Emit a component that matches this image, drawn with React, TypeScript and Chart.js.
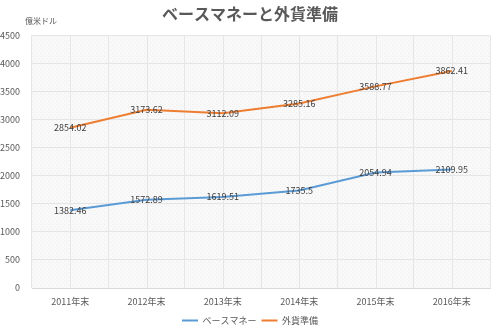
import React, { useEffect, useRef } from "react";
import { Chart, registerables } from "chart.js";

Chart.register(...registerables);

const categories = ["2011年末", "2012年末", "2013年末", "2014年末", "2015年末", "2016年末"];
const baseMoney = [1382.46, 1572.89, 1619.51, 1735.5, 2054.94, 2109.95];
const reserves = [2854.02, 3173.62, 3112.09, 3285.16, 3588.77, 3862.41];
const seriesNames = ["ベースマネー", "外貨準備"];
const yMin = 0;
const yMax = 4500;
const yStep = 500;
const titleText = "ベースマネーと外貨準備";
const unitText = "億米ドル";

const FONT = "'Noto Sans CJK JP', 'Noto Sans', sans-serif";

function makePattern(): CanvasPattern | string {
  const c = document.createElement("canvas");
  c.width = 4;
  c.height = 4;
  const g = c.getContext("2d");
  if (!g) return "#f7f7f7";
  g.fillStyle = "#f9f9f9";
  g.fillRect(0, 0, 4, 4);
  g.fillStyle = "#eeeeee";
  g.fillRect(0, 0, 1, 1);
  g.fillRect(2, 2, 1, 1);
  const p = g.createPattern(c, "repeat");
  return p || "#f7f7f7";
}

const decorPlugin = {
  id: "decor",
  beforeDraw(chart: any) {
    const { ctx, chartArea } = chart;
    ctx.save();
    ctx.fillStyle = makePattern();
    ctx.fillRect(chartArea.left, chartArea.top, chartArea.right - chartArea.left, chartArea.bottom - chartArea.top);
    ctx.restore();
  },
  beforeDatasetsDraw(chart: any) {
    const { ctx, chartArea, scales } = chart;
    const x = scales.x;
    ctx.save();
    ctx.strokeStyle = "#e6e6e6";
    ctx.lineWidth = 1;
    for (let i = 0; i < categories.length; i++) {
      const px = Math.round(x.getPixelForValue(i)) + 0.5;
      ctx.beginPath();
      ctx.moveTo(px, chartArea.top);
      ctx.lineTo(px, chartArea.bottom);
      ctx.stroke();
    }
    ctx.restore();
  },
  afterDatasetsDraw(chart: any) {
    const { ctx, chartArea } = chart;
    ctx.save();
    ctx.font = `9px ${FONT}`;
    ctx.fillStyle = "#404040";
    ctx.textAlign = "center";
    ctx.textBaseline = "middle";
    chart.data.datasets.forEach((ds: any, di: number) => {
      const meta = chart.getDatasetMeta(di);
      meta.data.forEach((pt: any, i: number) => {
        ctx.fillText(String(ds.data[i]), pt.x, pt.y);
      });
    });
    ctx.fillStyle = "#595959";
    ctx.textAlign = "left";
    ctx.textBaseline = "middle";
    ctx.font = `8px ${FONT}`;
    ctx.fillText(unitText, 25, chartArea.top - 14);
    ctx.restore();
  },
};

export default function App() {
  const ref = useRef<HTMLCanvasElement | null>(null);
  useEffect(() => {
    if (!ref.current) return;
    const chart = new Chart(ref.current, {
      type: "line",
      data: {
        labels: categories,
        datasets: [
          {
            label: seriesNames[0],
            data: baseMoney,
            borderColor: "#5B9BD5",
            backgroundColor: "#5B9BD5",
            borderWidth: 2,
            pointRadius: 0,
            tension: 0,
          },
          {
            label: seriesNames[1],
            data: reserves,
            borderColor: "#ED7D31",
            backgroundColor: "#ED7D31",
            borderWidth: 2,
            pointRadius: 0,
            tension: 0,
          },
        ],
      },
      options: {
        animation: false,
        responsive: false,
        maintainAspectRatio: false,
        layout: { padding: { left: 0, right: 0, top: 2, bottom: -5 } },
        plugins: {
          title: {
            display: true,
            text: titleText,
            color: "#595959",
            font: { family: FONT, size: 16, weight: "bold" },
            padding: { top: 2, bottom: 12 },
          },
          legend: {
            position: "bottom",
            labels: {
              usePointStyle: true,
              pointStyle: "line",
              pointStyleWidth: 16,
              color: "#595959",
              font: { family: FONT, size: 9 },
              padding: 5,
            },
          },
          tooltip: { enabled: false },
        },
        scales: {
          x: {
            offset: true,
            grid: { offset: true, color: "#e6e6e6", drawTicks: false },
            border: { display: true, color: "#d9d9d9" },
            ticks: { color: "#595959", font: { family: FONT, size: 9 }, padding: 8, maxRotation: 0 },
            afterFit(scale: any) {
              scale.height = 23;
            },
          },
          y: {
            min: yMin,
            max: yMax,
            grid: { color: "#e6e6e6", drawTicks: false },
            border: { display: false },
            ticks: {
              stepSize: yStep,
              color: "#595959",
              font: { family: FONT, size: 9 },
              padding: 12,
              callback: (v: any) => String(v),
            },
            afterFit(scale: any) {
              scale.width = 32;
            },
          },
          yRight: {
            position: "right",
            display: true,
            min: yMin,
            max: yMax,
            grid: { display: false, drawTicks: false },
            border: { display: false },
            ticks: { display: false },
            afterFit(scale: any) {
              scale.width = 10;
            },
          },
        },
      },
      plugins: [decorPlugin],
    });
    return () => chart.destroy();
  }, []);
  return (
    <div style={{ position: "fixed", left: 0, top: 0, width: 500, height: 330, background: "#fff" }}>
      <canvas ref={ref} width={500} height={330} style={{ width: 500, height: 330 }} />
    </div>
  );
}
